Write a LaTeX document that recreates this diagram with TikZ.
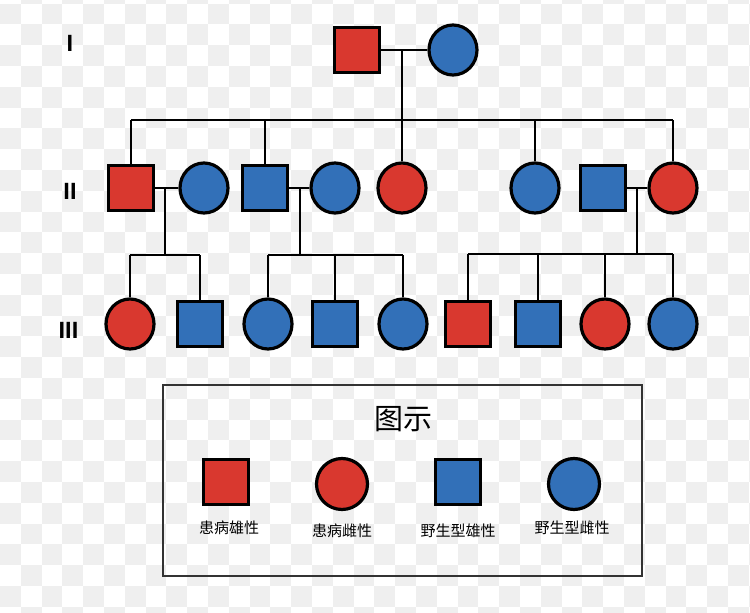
\documentclass[tikz,border=0pt]{standalone}
\usepackage{fontspec}
\newfontfamily\cjk{Noto Sans CJK SC}
\newfontfamily\rom{Liberation Sans}
\usetikzlibrary{shapes.geometric}
\definecolor{redfill}{HTML}{D9382F}
\definecolor{bluefill}{HTML}{3270B8}
\definecolor{checker}{HTML}{EFEFEF}
\begin{document}
\begin{tikzpicture}[x=1pt,y=-1pt,
  male/.style={rectangle,draw=black,line width=3.2pt,minimum size=44.5pt,inner sep=0pt},
  female/.style={ellipse,draw=black,line width=3.2pt,minimum width=48pt,minimum height=50pt,inner sep=0pt},
  lmale/.style={rectangle,draw=black,line width=3.2pt,minimum size=45pt,inner sep=0pt},
  lfemale/.style={circle,draw=black,line width=3.2pt,minimum size=51pt,inner sep=0pt},
  aff/.style={fill=redfill},
  wild/.style={fill=bluefill},
  link/.style={draw=black,line width=2.3pt},
  gen/.style={font=\rom\bfseries\fontsize{23.5}{28}\selectfont,inner sep=0pt},
  lab/.style={font=\cjk\fontsize{15}{18}\selectfont,inner sep=0pt}]
\useasboundingbox (0,0) rectangle (750,613);
\fill[white] (0,0) rectangle (750,613);
% checkerboard background
\begin{scope}
\clip (0,0) rectangle (750,613);
\foreach \c in {0,...,36}{
  \pgfmathtruncatemacro\st{mod(\c+1,2)}
  \pgfmathtruncatemacro\stt{\st+2}
  \foreach \r in {\st,\stt,...,31}{
    \fill[checker] (\c*20.8,-17.3+\r*20.8) rectangle ++(20.8,20.8);
  }
}
\end{scope}
% generation labels
\node[gen] (gI) at (70,43) {I};
\node[gen] (gII) at (70,191) {II};
\node[gen] (gIII) at (68.5,330) {III};
% generation I
\node[male,aff] (m1) at (357,50) {};
\node[female,wild] (f1) at (453,50) {};
% generation II
\node[male,aff] (IIa) at (131,188) {};
\node[female,wild] (IIb) at (204,188) {};
\node[male,wild] (IIc) at (265,188) {};
\node[female,wild] (IId) at (335,188) {};
\node[female,aff] (IIe) at (402,188) {};
\node[female,wild] (IIf) at (535,188) {};
\node[male,wild] (IIg) at (603,188) {};
\node[female,aff] (IIh) at (673,188) {};
% generation III
\node[female,aff] (IIIa) at (130,324) {};
\node[male,wild] (IIIb) at (200,324) {};
\node[female,wild] (IIIc) at (268,324) {};
\node[male,wild] (IIId) at (335,324) {};
\node[female,wild] (IIIe) at (403,324) {};
\node[male,aff] (IIIf) at (468,324) {};
\node[male,wild] (IIIg) at (538,324) {};
\node[female,aff] (IIIh) at (605,324) {};
\node[female,wild] (IIIi) at (673,324) {};
% coordinates
\coordinate (c1) at (402,50);
\coordinate (s1) at (402,120);
\coordinate (c2) at (165,188);
\coordinate (s2) at (165,255);
\coordinate (c3) at (300,188);
\coordinate (s3) at (300,255);
\coordinate (c4) at (637,188);
\coordinate (s4) at (637,254);
% marriages
\draw[link] (m1.east) -- (f1.west);
\draw[link] (IIa.east) -- (IIb.west);
\draw[link] (IIc.east) -- (IId.west);
\draw[link] (IIg.east) -- (IIh.west);
% descent lines
\draw[link] (c1) -- (s1);
\draw[link] (c2) -- (s2);
\draw[link] (c3) -- (s3);
\draw[link] (c4) -- (s4);
% sibship lines
\draw[link] (IIa.north |- s1) -- (IIh.north |- s1);
\draw[link] (IIIa.north |- s2) -- (IIIb.north |- s2);
\draw[link] (IIIc.north |- s3) -- (IIIe.north |- s3);
\draw[link] (IIIf.north |- s4) -- (IIIi.north |- s4);
% drops
\foreach \n in {IIa,IIc,IIe,IIf,IIh}{\draw[link] (\n.north) -- (\n.north |- s1);}
\foreach \n in {IIIa,IIIb}{\draw[link] (\n.north) -- (\n.north |- s2);}
\foreach \n in {IIIc,IIId,IIIe}{\draw[link] (\n.north) -- (\n.north |- s3);}
\foreach \n in {IIIf,IIIg,IIIh,IIIi}{\draw[link] (\n.north) -- (\n.north |- s4);}
% legend
\node[draw=black!80,line width=1.4pt,minimum width=479pt,minimum height=191pt,inner sep=0pt] (legend) at (402.5,480.5) {};
\node[font=\cjk\fontsize{29}{34}\selectfont,inner sep=0pt] (ltitle) at (403,419) {图示};
\node[lmale,aff] (L1) at (226,482) {};
\node[lfemale,aff] (L2) at (342,484) {};
\node[lmale,wild] (L3) at (458,482) {};
\node[lfemale,wild] (L4) at (574,484) {};
\node[lab] (t1) at (229,528) {患病雄性};
\node[lab] (t2) at (342,531) {患病雌性};
\node[lab] (t3) at (458,531) {野生型雄性};
\node[lab] (t4) at (572,528) {野生型雌性};
\end{tikzpicture}
\end{document}
